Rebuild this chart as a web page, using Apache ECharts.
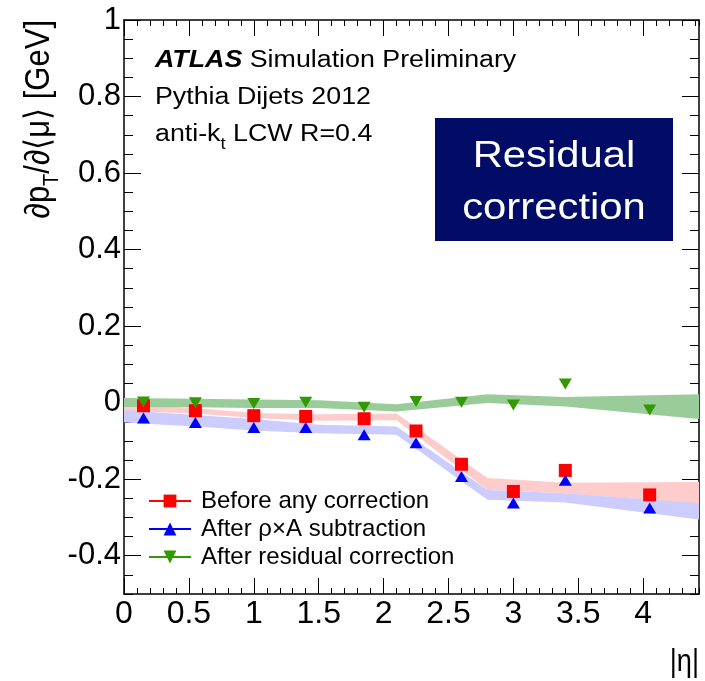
<!DOCTYPE html>
<html>
<head>
<meta charset="utf-8">
<title>Residual correction</title>
<script src="https://cdn.jsdelivr.net/npm/echarts@6/dist/echarts.min.js"></script>
<style>
  html, body { margin: 0; padding: 0; background: #fff; }
  #chart { width: 705px; height: 681px; }
</style>
</head>
<body>
<div id="chart"></div>
<script>
// points, one per |eta| bin
var etaPoints = [0.15, 0.55, 1.0, 1.4, 1.85, 2.25, 2.6, 3.0, 3.4, 4.05];
var beforeAny = [-0.008, -0.021, -0.034, -0.036, -0.042, -0.074, -0.161, -0.232, -0.177, -0.241];
var afterRhoA = [-0.040, -0.052, -0.065, -0.065, -0.084, -0.105, -0.193, -0.262, -0.203, -0.275];
var afterResidual = [0.002, 0.000, -0.002, 0.001, -0.012, 0.003, 0.001, -0.006, 0.049, -0.019];

// shaded bands (lower / upper edge at each node)
var bandEta = [0, 0.55, 1.0, 1.5, 2.1, 2.8, 3.4, 4.43];
var beforeLo = [-0.022, -0.028, -0.040, -0.047, -0.046, -0.228, -0.237, -0.265];
var beforeHi = [-0.005, -0.014, -0.027, -0.030, -0.028, -0.197, -0.209, -0.207];
var rhoALo = [-0.052, -0.062, -0.073, -0.080, -0.084, -0.254, -0.261, -0.305];
var rhoAHi = [-0.020, -0.032, -0.043, -0.058, -0.062, -0.228, -0.237, -0.263];
var residualLo = [-0.011, -0.012, -0.014, -0.014, -0.023, -0.001, -0.010, -0.043];
var residualHi = [0.012, 0.010, 0.008, 0.006, -0.004, 0.022, 0.015, 0.022];

var names = ['Before any correction', 'After \u03c1\u00d7A subtraction', 'After residual correction'];

var X_MAX = 4.43, Y_MIN = -0.5, Y_MAX = 1;
var FRAME_L = 124, FRAME_T = 20, FRAME_W = 575, FRAME_H = 574;
var FONT = '"Liberation Sans", Arial, Helvetica, sans-serif';

var chart = echarts.init(document.getElementById('chart'));

function minorX(pos) {
    return {
        gridIndex: 0, type: 'value', position: pos, min: 0, max: X_MAX, interval: 0.1,
        axisLine: { show: true, onZero: false, lineStyle: { color: '#000', width: 1.5 } },
        axisTick: { inside: true, length: 6, lineStyle: { color: '#000', width: 1 } },
        axisLabel: { show: false }, splitLine: { show: false }
    };
}
function minorY(pos) {
    return {
        gridIndex: 0, type: 'value', position: pos, min: Y_MIN, max: Y_MAX, interval: 0.05,
        axisLine: { show: true, onZero: false, lineStyle: { color: '#000', width: 1.5 } },
        axisTick: { inside: true, length: 9, lineStyle: { color: '#000', width: 1 } },
        axisLabel: { show: false }, splitLine: { show: false }
    };
}
function majorX(pos, labels) {
    return {
        gridIndex: 1, type: 'value', position: pos, min: 0, max: 4, interval: 0.5,
        axisLine: { show: false, onZero: false },
        axisTick: { inside: true, length: 16, lineStyle: { color: '#000', width: 1 } },
        axisLabel: { show: labels, margin: 4, fontSize: 32, color: '#000', fontFamily: FONT },
        splitLine: { show: false }
    };
}
function majorY(pos, labels) {
    return {
        gridIndex: 2, type: 'value', position: pos, min: -0.4, max: Y_MAX, interval: 0.2,
        axisLine: { show: false, onZero: false },
        axisTick: { inside: true, length: 17, lineStyle: { color: '#000', width: 1 } },
        axisLabel: { show: labels, margin: 3, fontSize: 31, color: '#000', fontFamily: FONT, padding: [6, 0, 0, 0] },
        splitLine: { show: false }
    };
}

function band(lo, hi, color) {
    return {
        type: 'custom', xAxisIndex: 0, yAxisIndex: 0, clip: true, silent: true, z: 1,
        data: bandEta.map(function (e, i) { return [e, lo[i], hi[i]]; }),
        renderItem: function (params, api) {
            if (params.dataIndex !== 0) return null;
            var pts = [];
            for (var i = 0; i < bandEta.length; i++) pts.push(api.coord([bandEta[i], hi[i]]));
            for (var j = bandEta.length - 1; j >= 0; j--) pts.push(api.coord([bandEta[j], lo[j]]));
            return { type: 'polygon', shape: { points: pts }, style: { fill: color } };
        }
    };
}

function points(name, vals, color, symbol, size, rot) {
    return {
        name: name, type: 'line', xAxisIndex: 0, yAxisIndex: 0, z: 5,
        data: etaPoints.map(function (e, i) { return [e, vals[i]]; }),
        symbol: symbol, symbolSize: size, symbolRotate: rot,
        lineStyle: { color: color, width: 2, opacity: 0 },
        itemStyle: { color: color },
        emphasis: { disabled: true }
    };
}

var option = {
    animation: false,
    backgroundColor: '#fff',
    grid: [
        { left: FRAME_L, top: FRAME_T, width: FRAME_W, height: FRAME_H },
        { left: FRAME_L, top: FRAME_T, width: 4 * FRAME_W / X_MAX, height: FRAME_H },
        { left: FRAME_L, top: FRAME_T, width: FRAME_W, height: (Y_MAX + 0.4) * FRAME_H / (Y_MAX - Y_MIN) }
    ],
    xAxis: [
        minorX('bottom'), minorX('top'),
        majorX('bottom', true), majorX('top', false),
        { gridIndex: 2, type: 'value', min: 0, max: X_MAX, show: false }
    ],
    yAxis: [
        minorY('left'), minorY('right'),
        { gridIndex: 1, type: 'value', min: Y_MIN, max: Y_MAX, show: false },
        majorY('left', true), majorY('right', false)
    ],
    legend: {
        orient: 'vertical', left: 148, top: 489, padding: 0, itemGap: 4,
        itemWidth: 42, itemHeight: 16, selectedMode: false,
        data: names,
        lineStyle: { width: 2, opacity: 1 },
        textStyle: { fontSize: 24, fontFamily: FONT, color: '#000', lineHeight: 24, padding: [0, 0, 0, 5] }
    },
    series: [
        band(beforeLo, beforeHi, '#ffcccc'),
        band(rhoALo, rhoAHi, '#ccccff'),
        band(residualLo, residualHi, '#99cc99'),
        points(names[0], beforeAny, '#ff0000', 'rect', 13, 0),
        points(names[1], afterRhoA, '#0000ff', 'triangle', [13, 11], 0),
        points(names[2], afterResidual, '#339900', 'triangle', [13, 11], 180)
    ],
    graphic: [
        {
            type: 'text', x: 155, y: 61, scaleX: 1.15,
            style: {
                text: '{b|ATLAS} Simulation Preliminary', fill: '#000',
                fontSize: 23.3, fontFamily: FONT, verticalAlign: 'middle',
                rich: { b: { fontSize: 23.3, fontFamily: FONT, fontWeight: 'bold', fontStyle: 'italic' } }
            }
        },
        {
            type: 'text', x: 155, y: 98, scaleX: 1.15,
            style: { text: 'Pythia Dijets 2012', fill: '#000', fontSize: 23.3, fontFamily: FONT, verticalAlign: 'middle' }
        },
        {
            type: 'text', x: 155, y: 135, scaleX: 1.15,
            style: {
                text: 'anti-k{s|t} LCW R=0.4', fill: '#000', fontSize: 23.3, fontFamily: FONT, verticalAlign: 'middle',
                rich: { s: { fontSize: 16, fontFamily: FONT, padding: [20, 0, 0, 0] } }
            }
        },
        {
            type: 'rect', shape: { x: 435, y: 118, width: 238, height: 123 },
            style: { fill: '#000c66' }
        },
        {
            type: 'text', x: 554, y: 157, scaleX: 1.13,
            style: { text: 'Residual', fill: '#fff', fontSize: 37, fontFamily: FONT, align: 'center', verticalAlign: 'middle' }
        },
        {
            type: 'text', x: 554, y: 209, scaleX: 1.13,
            style: { text: 'correction', fill: '#fff', fontSize: 37, fontFamily: FONT, align: 'center', verticalAlign: 'middle' }
        },
        {
            type: 'text', x: 39, y: 20, rotation: Math.PI / 2, scaleY: 1.13,
            style: {
                text: '\u2202p{s|T}/\u2202\u27e8\u03bc\u27e9 [GeV]', fill: '#000', fontSize: 31, fontFamily: FONT,
                align: 'right', verticalAlign: 'middle',
                rich: { s: { fontSize: 20, fontFamily: FONT, padding: [22, 0, 0, 0] } }
            }
        },
        {
            type: 'text', x: 699, y: 662, scaleX: 0.85,
            style: { text: '|\u03b7|', fill: '#000', fontSize: 32, fontFamily: FONT, align: 'right', verticalAlign: 'middle' }
        }
    ]
};

chart.setOption(option);
</script>
</body>
</html>
